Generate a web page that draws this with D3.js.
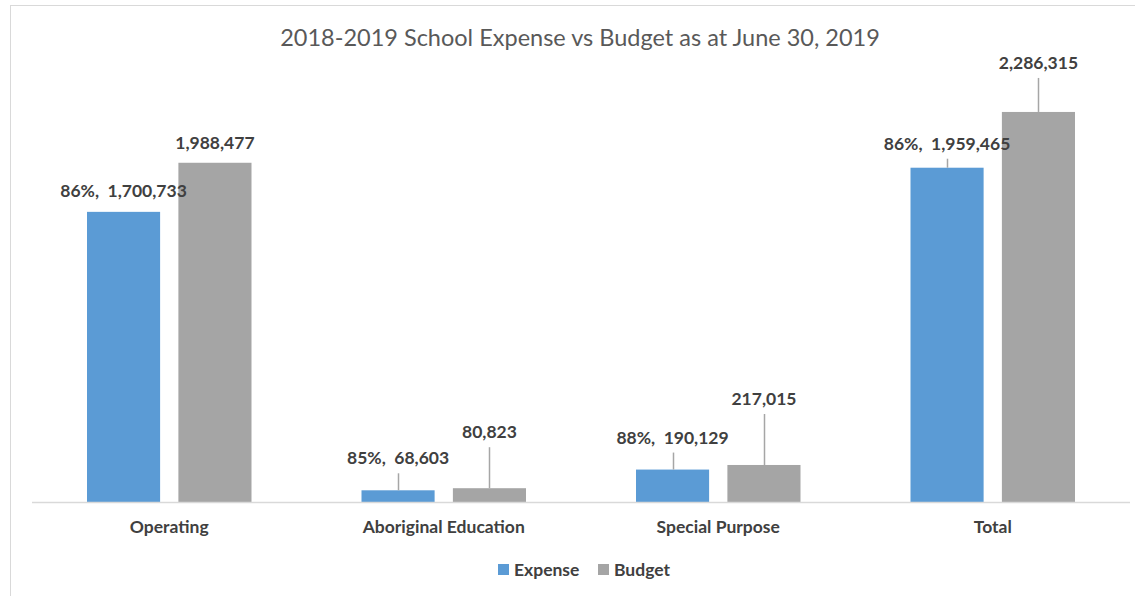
<!DOCTYPE html>
<html>
<head>
<meta charset="utf-8">
<script src="https://cdn.jsdelivr.net/npm/d3@7/dist/d3.min.js"></script>
<style>
  body { margin: 0; background: #fff; }
  text { font-family: Lato, "Open Sans", sans-serif; }
</style>
</head>
<body>
<div id="chart"></div>
<script>
// data
var categories = ["Operating", "Aboriginal Education", "Special Purpose", "Total"];
var series = ["Expense", "Budget"];
var expense = [1700733, 68603, 190129, 1959465];
var budget = [1988477, 80823, 217015, 2286315];
var yMax = 2500000;
var title = "2018-2019 School Expense vs Budget as at June 30, 2019";

// colours
var colors = { Expense: "#5B9BD5", Budget: "#A5A5A5" };

// how far each label sits above its bar (excel labels were dragged by hand)
var labelLift = {
  Expense: [15, 26, 26, 18],
  Budget: [14, 50, 60, 43]
};

var W = 1135, H = 596;
var plot = { left: 32, right: 1130, top: 75.5, bottom: 502 };

var svg = d3.select("#chart")
  .append("svg")
    .attr("width", W)
    .attr("height", H);

// chart frame (runs off the right and bottom edge in the picture)
svg.append("rect")
  .attr("x", 10.5)
  .attr("y", 5.5)
  .attr("width", 1300)
  .attr("height", 800)
  .attr("fill", "none")
  .attr("stroke", "#D9D9D9");

svg.append("text")
  .attr("x", 580)
  .attr("y", 46)
  .attr("text-anchor", "middle")
  .style("font-size", "23.5px")
  .style("fill", "#595959")
  .text(title);

var x0 = d3.scaleBand()
  .domain(categories)
  .range([plot.left, plot.right]);

var x1 = d3.scaleBand()
  .domain(series)
  .range([55, x0.bandwidth() - 55])
  .paddingInner(0.2);

var y = d3.scaleLinear()
  .domain([0, yMax])
  .range([plot.bottom, plot.top]);

var rows = categories.map(function (c, i) {
  return { cat: c, i: i, Expense: expense[i], Budget: budget[i] };
});

var bars = [];
rows.forEach(function (r) {
  series.forEach(function (s) {
    var txt;
    if (s === "Expense") {
      var pct = Math.round(r.Expense / r.Budget * 100);
      txt = pct + "%,  " + d3.format(",")(r.Expense);
    } else {
      txt = d3.format(",")(r.Budget);
    }
    bars.push({ cat: r.cat, s: s, v: r[s], label: txt, lift: labelLift[s][r.i] });
  });
});

var g = svg.append("g");

g.selectAll("rect.bar")
  .data(bars)
  .enter()
  .append("rect")
    .attr("class", "bar")
    .attr("x", function (d) { return x0(d.cat) + x1(d.s); })
    .attr("y", function (d) { return y(d.v); })
    .attr("width", x1.bandwidth())
    .attr("height", function (d) { return y(0) - y(d.v); })
    .style("fill", function (d) { return colors[d.s]; });

// axis line
svg.append("line")
  .attr("x1", plot.left)
  .attr("x2", plot.right)
  .attr("y1", plot.bottom + 0.5)
  .attr("y2", plot.bottom + 0.5)
  .attr("stroke", "#D9D9D9")
  .attr("stroke-width", 1.5);

// leader lines
g.selectAll("line.leader")
  .data(bars.filter(function (d) { return d.lift > 16; }))
  .enter()
  .append("line")
    .attr("class", "leader")
    .attr("x1", function (d) { return Math.round(x0(d.cat) + x1(d.s) + x1.bandwidth() / 2) + 0.5; })
    .attr("x2", function (d) { return Math.round(x0(d.cat) + x1(d.s) + x1.bandwidth() / 2) + 0.5; })
    .attr("y1", function (d) { return y(d.v) - d.lift + 9; })
    .attr("y2", function (d) { return y(d.v); })
    .attr("stroke", "#A6A6A6")
    .attr("stroke-width", 1.5);

g.selectAll("text.lbl")
  .data(bars)
  .enter()
  .append("text")
    .attr("class", "lbl")
    .attr("x", function (d) { return x0(d.cat) + x1(d.s) + x1.bandwidth() / 2; })
    .attr("y", function (d) { return y(d.v) - d.lift; })
    .attr("text-anchor", "middle")
    .style("white-space", "pre")
    .style("font-size", "17.5px")
    .style("font-weight", "bold")
    .style("fill", "#404040")
    .text(function (d) { return d.label; });

// category labels
svg.selectAll("text.cat")
  .data(categories)
  .enter()
  .append("text")
    .attr("class", "cat")
    .attr("x", function (d) { return x0(d) + x0.bandwidth() / 2; })
    .attr("y", 533)
    .attr("text-anchor", "middle")
    .style("font-size", "17.5px")
    .style("font-weight", "bold")
    .style("fill", "#404040")
    .text(function (d) { return d; });

// legend
var legendX = [498, 598];
var lg = svg.selectAll("g.legend")
  .data(series)
  .enter()
  .append("g")
    .attr("class", "legend")
    .attr("transform", function (d, i) { return "translate(" + legendX[i] + ",564)"; });

lg.append("rect")
  .attr("width", 11)
  .attr("height", 11)
  .style("fill", function (d) { return colors[d]; });

lg.append("text")
  .attr("x", 16)
  .attr("y", 11.5)
  .style("font-size", "17.5px")
  .style("font-weight", "bold")
  .style("fill", "#404040")
  .text(function (d) { return d; });
</script>
</body>
</html>
